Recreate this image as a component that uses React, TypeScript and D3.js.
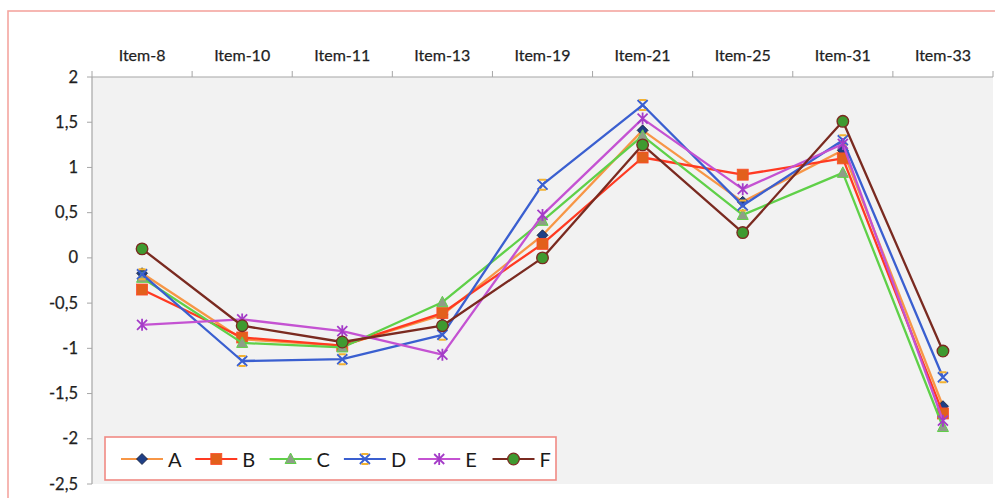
import React from "react";
import * as d3 from "d3";

const categories = ["Item-8", "Item-10", "Item-11", "Item-13", "Item-19", "Item-21", "Item-25", "Item-31", "Item-33"];
const seriesNames = ["A", "B", "C", "D", "E", "F"];
const valuesA = [-0.17, -0.9, -0.97, -0.63, 0.25, 1.41, 0.62, 1.19, -1.64];
const valuesB = [-0.35, -0.88, -0.97, -0.61, 0.155, 1.11, 0.92, 1.1, -1.72];
const valuesC = [-0.22, -0.94, -0.99, -0.49, 0.41, 1.35, 0.475, 0.94, -1.87];
const valuesD = [-0.18, -1.14, -1.12, -0.85, 0.81, 1.69, 0.58, 1.3, -1.32];
const valuesE = [-0.74, -0.68, -0.81, -1.07, 0.475, 1.54, 0.76, 1.26, -1.8];
const valuesF = [0.1, -0.75, -0.93, -0.75, 0.0, 1.25, 0.28, 1.51, -1.03];
const yTicks = [2, 1.5, 1, 0.5, 0, -0.5, -1, -1.5, -2, -2.5];

const allValues = [valuesA, valuesB, valuesC, valuesD, valuesE, valuesF];
const lineColors = ["#f79646", "#ff3a22", "#5fd048", "#3a5fd0", "#c452d2", "#7a2a20"];

const W = 995;
const H = 498;
const plot = { left: 92, right: 993, top: 77, bottom: 484 };
const FONT = "Lato, 'Open Sans', sans-serif";

function Marker({ kind, x, y }: { kind: number; x: number; y: number }) {
  switch (kind) {
    case 0:
      return (
        <path
          d={`M${x},${y - 5.5}L${x + 5.5},${y}L${x},${y + 5.5}L${x - 5.5},${y}Z`}
          fill="#1f3f86"
          stroke="#111a33"
          strokeWidth={0.8}
        />
      );
    case 1:
      return <rect x={x - 5.5} y={y - 5.5} width={11} height={11} fill="#e2601c" stroke="#ff4a2a" strokeWidth={0.8} />;
    case 2:
      return (
        <path
          d={`M${x},${y - 6}L${x + 5.5},${y + 4.5}L${x - 5.5},${y + 4.5}Z`}
          fill="#8e9e88"
          stroke="#5fd048"
          strokeWidth={1}
        />
      );
    case 3:
      return (
        <g strokeWidth={2}>
          <path d={`M${x - 5},${y - 5}L${x + 5},${y + 5}M${x + 5},${y - 5}L${x - 5},${y + 5}`} stroke="#3a5fd0" />
          <path d={`M${x - 3.5},${y - 5}L${x + 3.5},${y - 5}M${x - 3.5},${y + 5}L${x + 3.5},${y + 5}`} stroke="#f2b233" />
        </g>
      );
    case 4:
      return (
        <path
          d={`M${x - 5},${y - 5}L${x + 5},${y + 5}M${x + 5},${y - 5}L${x - 5},${y + 5}M${x},${y - 6}L${x},${y + 6}`}
          stroke="#a43cc8"
          strokeWidth={1.8}
        />
      );
    default:
      return <circle cx={x} cy={y} r={5.8} fill="#3f9a30" stroke="#7a2a20" strokeWidth={1.3} />;
  }
}

export default function App() {
  const x = d3.scaleBand<string>().domain(categories).range([plot.left, plot.right]);
  const y = d3.scaleLinear().domain([-2.5, 2]).range([plot.bottom, plot.top]);
  const cx = (c: string) => (x(c) as number) + x.bandwidth() / 2;
  const line = d3
    .line<number>()
    .x((_, i) => cx(categories[i]))
    .y((d) => y(d));

  const boundaries = categories.map((c) => x(c) as number).concat([plot.right]);

  const legendX0 = 121;
  const legendStep = 74.3;
  const legendY = 459;

  return (
    <svg
      width={W}
      height={H}
      style={{ position: "fixed", left: 0, top: 0, background: "#ffffff" }}
      fontFamily={FONT}
    >
      <rect x={0} y={0} width={W} height={H} fill="#ffffff" />
      <rect x={8} y={11} width={W} height={H} fill="none" stroke="#f4a6a0" strokeWidth={1.6} />
      <rect
        x={plot.left}
        y={plot.top}
        width={plot.right - plot.left}
        height={plot.bottom - plot.top}
        fill="#f2f2f2"
      />
      {/* top category axis */}
      <line x1={plot.left} x2={plot.right} y1={plot.top} y2={plot.top} stroke="#a6a6a6" strokeWidth={1.2} />
      {boundaries.map((b, i) => (
        <line key={i} x1={b} x2={b} y1={plot.top - 6} y2={plot.top} stroke="#a6a6a6" strokeWidth={1} />
      ))}
      {categories.map((c) => (
        <text key={c} x={cx(c)} y={61} textAnchor="middle" fontSize={16} fill="#1f1f1f" stroke="#1f1f1f" strokeWidth={0.25}>
          {c}
        </text>
      ))}
      {/* y axis */}
      <line x1={plot.left} x2={plot.left} y1={plot.top} y2={plot.bottom} stroke="#a6a6a6" strokeWidth={1.2} />
      {yTicks.map((t) => (
        <g key={t}>
          <line x1={plot.left - 5} x2={plot.left} y1={y(t)} y2={y(t)} stroke="#a6a6a6" strokeWidth={1} />
          <text x={78} y={y(t) + 5.5} textAnchor="end" fontSize={16.5} fill="#1f1f1f" stroke="#1f1f1f" strokeWidth={0.25}>
            {String(t).replace(".", ",")}
          </text>
        </g>
      ))}
      {/* series */}
      {allValues.map((vals, si) => (
        <g key={si}>
          <path d={line(vals) || ""} fill="none" stroke={lineColors[si]} strokeWidth={2.3} strokeLinejoin="round" />
          {vals.map((v, i) => (
            <Marker key={i} kind={si} x={cx(categories[i])} y={y(v)} />
          ))}
        </g>
      ))}
      {/* legend */}
      <rect x={105} y={437} width={451} height={43} fill="#ffffff" stroke="#f08a84" strokeWidth={1.6} />
      {seriesNames.map((n, i) => {
        const lx = legendX0 + i * legendStep;
        return (
          <g key={n}>
            <line x1={lx} x2={lx + 42} y1={legendY} y2={legendY} stroke={lineColors[i]} strokeWidth={2} />
            <Marker kind={i} x={lx + 21} y={legendY} />
            <text x={lx + 47} y={legendY + 7.5} fontSize={20} fill="#1a1a1a">
              {n}
            </text>
          </g>
        );
      })}
    </svg>
  );
}
